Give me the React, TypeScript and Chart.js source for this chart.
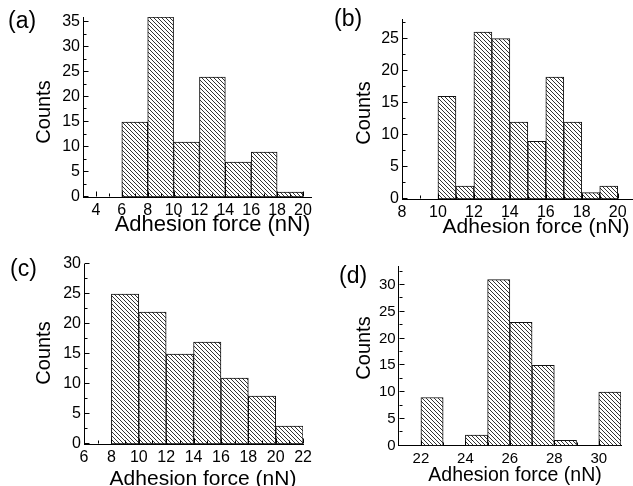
import React, { useEffect, useRef } from "react";
import { Chart, registerables } from "chart.js";

Chart.register(...registerables);

const FONT = "'Liberation Sans', Arial, Helvetica, sans-serif";

// ---- Data (bin centres in nN, counts) ----
const binsA = [7, 9, 11, 13, 15, 17, 19];
const countsA = [15, 36, 11, 24, 7, 9, 1];
const xTicksA = [4, 6, 8, 10, 12, 14, 16, 18, 20];
const yTicksA = [0, 5, 10, 15, 20, 25, 30, 35];

const binsB = [10.5, 11.5, 12.5, 13.5, 14.5, 15.5, 16.5, 17.5, 18.5, 19.5];
const countsB = [16, 2, 26, 25, 12, 9, 19, 12, 1, 2];
const xTicksB = [8, 10, 12, 14, 16, 18, 20];
const yTicksB = [0, 5, 10, 15, 20, 25];

const binsC = [9, 11, 13, 15, 17, 19, 21];
const countsC = [25, 22, 15, 17, 11, 8, 3];
const xTicksC = [6, 8, 10, 12, 14, 16, 18, 20, 22];
const yTicksC = [0, 5, 10, 15, 20, 25, 30];

const binsD = [22.5, 24.5, 25.5, 26.5, 27.5, 28.5, 30.5];
const countsD = [9, 2, 31, 23, 15, 1, 10];
const xTicksD = [22, 24, 26, 28, 30];
const yTicksD = [0, 5, 10, 15, 20, 25, 30];

const X_TITLE = "Adhesion force (nN)";
const Y_TITLE = "Counts";

function makeHatch(): CanvasPattern | string {
  const n = 4;
  const c = document.createElement("canvas");
  c.width = n;
  c.height = n;
  const g = c.getContext("2d");
  if (!g) return "#999";
  g.fillStyle = "#ffffff";
  g.fillRect(0, 0, n, n);
  g.fillStyle = "#333333";
  for (let i = 0; i < n; i++) g.fillRect(i, i, 1, 1);
  return g.createPattern(c, "repeat") || "#999";
}

function minorsOf(ticks: number[], lo: number, hi: number): number[] {
  const out: number[] = [];
  const step = ticks[1] - ticks[0];
  const first = ticks[0] - step / 2;
  for (let v = first; v <= hi + 1e-9; v += step) {
    if (v > lo + 1e-9 && v < hi - 1e-9) out.push(v);
  }
  return out;
}

const inwardTicks = {
  id: "inwardTicks",
  afterDraw(chart: any, _args: any, opts: any) {
    const { ctx, scales } = chart;
    const xs = scales.x;
    const ys = scales.y;
    const area = chart.chartArea;
    ctx.save();
    ctx.strokeStyle = "#000";
    ctx.lineWidth = 1;
    const bottom = Math.round(area.bottom) - 0.5;
    const left = Math.round(area.left) + 0.5;
    const drawX = (vals: number[], len: number) => {
      for (const v of vals) {
        const px = Math.round(xs.getPixelForValue(v)) + 0.5;
        ctx.beginPath();
        ctx.moveTo(px, bottom);
        ctx.lineTo(px, bottom - len);
        ctx.stroke();
      }
    };
    const drawY = (vals: number[], len: number) => {
      for (const v of vals) {
        const py = Math.round(ys.getPixelForValue(v)) - 0.5;
        ctx.beginPath();
        ctx.moveTo(left, py);
        ctx.lineTo(left + len, py);
        ctx.stroke();
      }
    };
    drawX(opts.xMajor, 5);
    drawX(opts.xMinor, 3);
    drawY(opts.yMajor, 5);
    drawY(opts.yMinor, 3);
    ctx.restore();
  },
};

type PanelProps = {
  left: number;
  top: number;
  width: number;
  height: number;
  padTop: number;
  padRight: number;
  yAxisWidth: number;
  xAxisHeight: number;
  xMin: number;
  xMax: number;
  yMax: number;
  bins: number[];
  counts: number[];
  xTicks: number[];
  yTicks: number[];
  tickSize: number;
};

function Panel(p: PanelProps) {
  const ref = useRef<HTMLCanvasElement>(null);
  useEffect(() => {
    const canvas = ref.current;
    if (!canvas) return;
    const hatch = makeHatch();
    const chart = new Chart(canvas, {
      type: "bar",
      data: {
        datasets: [
          {
            data: p.bins.map((b, i) => ({ x: b, y: p.counts[i] })),
            backgroundColor: hatch as any,
            borderColor: "#111",
            borderWidth: 1,
            borderSkipped: false,
            barPercentage: 1,
            categoryPercentage: 1,
          } as any,
        ],
      },
      options: {
        animation: false,
        responsive: false,
        devicePixelRatio: 1,
        events: [],
        layout: { padding: { top: p.padTop, right: p.padRight, left: 0, bottom: 0 } },
        plugins: {
          legend: { display: false },
          tooltip: { enabled: false },
          inwardTicks: {
            xMajor: p.xTicks,
            xMinor: minorsOf(p.xTicks, p.xMin, p.xMax),
            yMajor: p.yTicks,
            yMinor: minorsOf(p.yTicks, 0, p.yMax),
          },
        } as any,
        scales: {
          x: {
            type: "linear",
            min: p.xMin,
            max: p.xMax,
            offset: false,
            grid: { display: false, drawTicks: false, offset: false },
            border: { display: true, color: "#000", width: 1 },
            ticks: {
              color: "#000",
              font: { family: FONT, size: p.tickSize },
              padding: 4,
              maxRotation: 0,
              autoSkip: false,
            },
            afterBuildTicks: (s: any) => {
              s.ticks = p.xTicks.map((v) => ({ value: v }));
            },
            afterFit: (s: any) => {
              s.height = p.xAxisHeight;
            },
          },
          y: {
            type: "linear",
            min: 0,
            max: p.yMax,
            grid: { display: false, drawTicks: false },
            border: { display: true, color: "#000", width: 1 },
            ticks: {
              color: "#000",
              font: { family: FONT, size: p.tickSize },
              padding: 3,
              autoSkip: false,
            },
            afterBuildTicks: (s: any) => {
              s.ticks = p.yTicks.map((v) => ({ value: v }));
            },
            afterFit: (s: any) => {
              s.width = p.yAxisWidth;
            },
          },
        } as any,
      },
      plugins: [inwardTicks as any],
    });
    return () => chart.destroy();
  }, []);
  return (
    <canvas
      ref={ref}
      width={p.width}
      height={p.height}
      style={{ position: "absolute", left: p.left, top: p.top, width: p.width, height: p.height }}
    />
  );
}

function Txt(props: { x: number; y: number; size: number; text: string; rotate?: boolean }) {
  return (
    <div
      style={{
        position: "absolute",
        left: props.x,
        top: props.y,
        transform: `translate(-50%, -50%)${props.rotate ? " rotate(-90deg)" : ""}`,
        fontFamily: FONT,
        fontSize: props.size,
        lineHeight: 1,
        whiteSpace: "nowrap",
        color: "#000",
      }}
    >
      {props.text}
    </div>
  );
}

function Tag(props: { x: number; y: number; text: string }) {
  return (
    <div
      style={{
        position: "absolute",
        left: props.x,
        top: props.y,
        fontFamily: FONT,
        fontSize: 23,
        lineHeight: 1,
        whiteSpace: "nowrap",
        color: "#000",
      }}
    >
      {props.text}
    </div>
  );
}

export default function App() {
  return (
    <div
      style={{
        position: "fixed",
        left: 0,
        top: 0,
        width: 633,
        height: 486,
        overflow: "hidden",
        background: "#fff",
      }}
    >
      <Panel
        left={0} top={0} width={316} height={240}
        padTop={17} padRight={3} yAxisWidth={83} xAxisHeight={43}
        xMin={3} xMax={20.65} yMax={36}
        bins={binsA} counts={countsA} xTicks={xTicksA} yTicks={yTicksA} tickSize={16}
      />
      <Panel
        left={316} top={0} width={317} height={240}
        padTop={19.3} padRight={0} yAxisWidth={86} xAxisHeight={41}
        xMin={8} xMax={20.85} yMax={28}
        bins={binsB} counts={countsB} xTicks={xTicksB} yTicks={yTicksB} tickSize={16}
      />
      <Panel
        left={0} top={240} width={316} height={256}
        padTop={24} padRight={10.3} yAxisWidth={84} xAxisHeight={52}
        xMin={6} xMax={22} yMax={30}
        bins={binsC} counts={countsC} xTicks={xTicksC} yTicks={yTicksC} tickSize={16}
      />
      <Panel
        left={316} top={240} width={317} height={256}
        padTop={26.7} padRight={12} yAxisWidth={82.7} xAxisHeight={50.3}
        xMin={21} xMax={31} yMax={33.4}
        bins={binsD} counts={countsD} xTicks={xTicksD} yTicks={yTicksD} tickSize={15}
      />

      <Txt x={212.5} y={224} size={22} text={X_TITLE} />
      <Txt x={536} y={225} size={21} text={X_TITLE} />
      <Txt x={203} y={477} size={21} text={X_TITLE} />
      <Txt x={515} y={474.5} size={19.5} text={X_TITLE} />

      <Txt x={43} y={112} size={20} text={Y_TITLE} rotate />
      <Txt x={363} y={113} size={20} text={Y_TITLE} rotate />
      <Txt x={43} y={353} size={20} text={Y_TITLE} rotate />
      <Txt x={363} y={347.5} size={20} text={Y_TITLE} rotate />

      <Tag x={8} y={9} text="(a)" />
      <Tag x={334} y={7} text="(b)" />
      <Tag x={10} y={257} text="(c)" />
      <Tag x={339} y={264} text="(d)" />
    </div>
  );
}
